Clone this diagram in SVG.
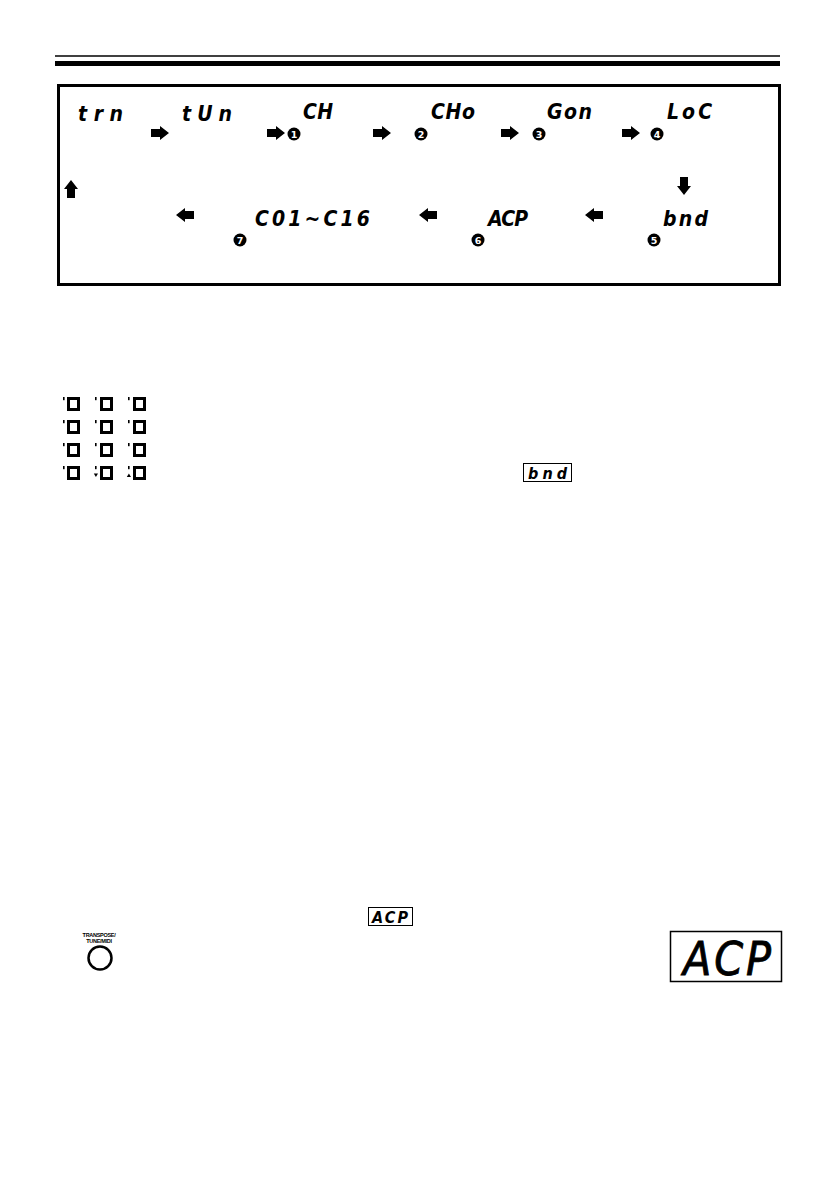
<svg xmlns="http://www.w3.org/2000/svg" width="840" height="1190" viewBox="0 0 840 1190">
<style>
.seg{font-family:"DejaVu Sans Condensed","DejaVu Sans",sans-serif;font-stretch:condensed;font-style:oblique;font-weight:bold;font-size:21px;fill:#000}
.big{font-family:"DejaVu Sans Condensed","DejaVu Sans",sans-serif;font-stretch:condensed;font-style:oblique;font-size:46px;fill:#000;stroke:#000;stroke-width:0.8}
.nc{fill:#000}
.nt{font-family:"DejaVu Sans",sans-serif;font-weight:bold;font-size:9.5px;fill:#fff;text-anchor:middle}
.sq{fill:none;stroke:#000;stroke-width:3}
.dot{fill:#000}
.tiny{font-family:"Liberation Sans",Arial,sans-serif;font-weight:bold;font-size:5.5px;fill:#000;text-anchor:middle;letter-spacing:-0.3px}
</style>
<defs>
<path id="arr" d="M-9,-4 H0 V-7 L9,0 L0,7 V4 H-9 Z" fill="#000"/>
</defs>
<rect width="840" height="1190" fill="#fff"/>
<g id="header">
<line x1="55" y1="56" x2="780" y2="56" stroke="#000" stroke-width="1.5"/>
<rect x="55" y="61" width="725" height="5" fill="#000"/>
</g>
<rect id="frame" x="58.5" y="85.5" width="721" height="199" fill="none" stroke="#000" stroke-width="3"/>
<g id="n-trn"><text class="seg" x="78" y="121" textLength="45" lengthAdjust="spacing">trn</text></g>
<g id="n-tun"><text class="seg" x="182" y="121" textLength="50" lengthAdjust="spacing">tUn</text></g>
<g id="n-ch"><circle class="nc" cx="294" cy="134" r="6.5"/><text class="nt" x="294" y="137.5">1</text><text class="seg" x="303" y="119" textLength="30" lengthAdjust="spacing">CH</text></g>
<g id="n-cho"><circle class="nc" cx="421" cy="134" r="6.5"/><text class="nt" x="421" y="137.5">2</text><text class="seg" x="431" y="119" textLength="44" lengthAdjust="spacing">CHo</text></g>
<g id="n-gon"><circle class="nc" cx="539" cy="134" r="6.5"/><text class="nt" x="539" y="137.5">3</text><text class="seg" x="547" y="119" textLength="45" lengthAdjust="spacing">Gon</text></g>
<g id="n-loc"><circle class="nc" cx="657" cy="134" r="6.5"/><text class="nt" x="657" y="137.5">4</text><text class="seg" x="667" y="119" textLength="45" lengthAdjust="spacing">LoC</text></g>
<g id="n-bnd"><circle class="nc" cx="654" cy="240" r="6.5"/><text class="nt" x="654" y="243.5">5</text><text class="seg" x="663" y="226" textLength="45" lengthAdjust="spacing">bnd</text></g>
<g id="n-acp"><circle class="nc" cx="478" cy="240" r="6.5"/><text class="nt" x="478" y="243.5">6</text><text class="seg" x="488" y="226" textLength="40" lengthAdjust="spacing">ACP</text></g>
<g id="n-c01"><circle class="nc" cx="240" cy="240" r="6.5"/><text class="nt" x="240" y="243.5">7</text><text class="seg" x="255" y="226" textLength="115" lengthAdjust="spacing">C01~C16</text></g>
<g id="connectors">
<use href="#arr" transform="translate(160,133)"/>
<use href="#arr" transform="translate(276,133)"/>
<use href="#arr" transform="translate(382,133)"/>
<use href="#arr" transform="translate(510,133)"/>
<use href="#arr" transform="translate(631,133)"/>
<use href="#arr" transform="translate(684,186) rotate(90)"/>
<use href="#arr" transform="translate(594,215) rotate(180)"/>
<use href="#arr" transform="translate(428,215) rotate(180)"/>
<use href="#arr" transform="translate(185,215) rotate(180)"/>
<use href="#arr" transform="translate(71,189) rotate(-90)"/>
</g>
<g id="indicators">
<g id="row1">
<rect class="dot" x="63" y="397" width="1.6" height="3.2"/><rect class="sq" x="68.5" y="398.5" width="10" height="11"/>
<rect class="dot" x="95" y="397" width="1.6" height="3.2"/><rect class="sq" x="101.5" y="398.5" width="10" height="11"/>
<rect class="dot" x="128" y="397" width="1.6" height="3.2"/><rect class="sq" x="134.5" y="398.5" width="10" height="11"/>
</g>
<g id="row2">
<rect class="dot" x="63" y="420" width="1.6" height="3.2"/><rect class="sq" x="68.5" y="421.5" width="10" height="11"/>
<rect class="dot" x="95" y="420" width="1.6" height="3.2"/><rect class="sq" x="101.5" y="421.5" width="10" height="11"/>
<rect class="dot" x="128" y="420" width="1.6" height="3.2"/><rect class="sq" x="134.5" y="421.5" width="10" height="11"/>
</g>
<g id="row3">
<rect class="dot" x="63" y="443" width="1.6" height="3.2"/><rect class="sq" x="68.5" y="444.5" width="10" height="11"/>
<rect class="dot" x="95" y="443" width="1.6" height="3.2"/><rect class="sq" x="101.5" y="444.5" width="10" height="11"/>
<rect class="dot" x="128" y="443" width="1.6" height="3.2"/><rect class="sq" x="134.5" y="444.5" width="10" height="11"/>
</g>
<g id="row4">
<rect class="dot" x="63" y="466" width="1.6" height="3.2"/><rect class="sq" x="68.5" y="467.5" width="10" height="11"/>
<rect class="dot" x="95" y="466" width="1.6" height="3.2"/><path class="dot" d="M93.8,473.5 h4.2 l-2.1,3.6 z"/><rect class="sq" x="101.5" y="467.5" width="10" height="11"/>
<rect class="dot" x="128" y="466" width="1.6" height="3.2"/><path class="dot" d="M126.8,477.1 h4.2 l-2.1,-3.6 z"/><rect class="sq" x="134.5" y="467.5" width="10" height="11"/>
</g>
</g>
<g id="bnd-box">
<rect x="523.5" y="463.5" width="48" height="18" fill="none" stroke="#000" stroke-width="1"/>
<text class="seg" x="528" y="479" style="font-size:16px" textLength="39" lengthAdjust="spacing">bnd</text>
</g>
<g id="acp-box">
<rect x="368.5" y="907.5" width="44" height="18" fill="none" stroke="#000" stroke-width="1"/>
<text class="seg" x="372" y="923" style="font-size:16px" textLength="36" lengthAdjust="spacing">ACP</text>
</g>
<g id="button">
<text class="tiny" x="99" y="937">TRANSPOSE/</text>
<text class="tiny" x="99" y="943">TUNE/MIDI</text>
<circle cx="100" cy="958" r="11.5" fill="none" stroke="#000" stroke-width="2.5"/>
</g>
<g id="display">
<rect x="670.5" y="931.5" width="111" height="50" fill="none" stroke="#000" stroke-width="1.5"/>
<text class="big" x="683" y="975" textLength="88" lengthAdjust="spacing">ACP</text>
</g>
</svg>
